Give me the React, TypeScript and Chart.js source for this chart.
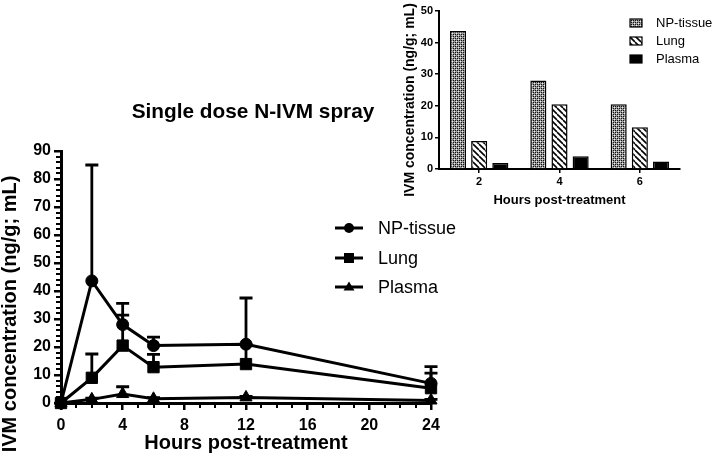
import React, { useEffect, useRef } from 'react';
import { Chart, registerables } from 'chart.js';

Chart.register(...registerables);

const FONT = 'Arial, "Liberation Sans", Helvetica, sans-serif';

// ---- main chart data ----
const hours = [0, 2, 4, 6, 12, 24];
const seriesNames = ['NP-tissue', 'Lung', 'Plasma'];
const npTissue = [0, 43.6, 28, 20.5, 21, 7];
const npTissueErr = [0, 41.4, 7.6, 3, 16.5, 6];
const lung = [0, 9, 20.5, 12.8, 13.9, 5.3];
const lungErr = [0, 8.5, 10.9, 4.6, 7, 5.4];
const plasma = [0, 1.3, 3.2, 1.5, 2.0, 0.9];
const plasmaErr = [0, 0.4, 2.6, 0.4, 0.4, 0.4];
const mainTitle = 'Single dose N-IVM spray';
const yTitle = 'IVM concentration (ng/g; mL)';
const xTitle = 'Hours post-treatment';

// ---- inset bar chart data ----
const barHours = ['2', '4', '6'];
const barNp = [43.7, 28.0, 20.5];
const barLung = [8.9, 20.5, 13.2];
const barPlasma = [1.9, 4.0, 2.4];

function makeDotPattern(): CanvasPattern | string {
  const c = document.createElement('canvas');
  c.width = 4; c.height = 4;
  const g = c.getContext('2d');
  if (!g) return '#999';
  g.fillStyle = '#9a9a9a';
  g.fillRect(0, 0, 4, 4);
  g.fillStyle = '#111';
  g.fillRect(0, 0, 1, 1);
  g.fillRect(2, 2, 1, 1);
  g.fillRect(2, 0, 1, 1);
  g.fillRect(0, 2, 1, 1);
  g.fillStyle = '#eee';
  g.fillRect(1, 1, 1, 1);
  g.fillRect(3, 3, 1, 1);
  return g.createPattern(c, 'repeat') || '#999';
}

function makeStripePattern(): CanvasPattern | string {
  const s = 6;
  const c = document.createElement('canvas');
  c.width = s; c.height = s;
  const g = c.getContext('2d');
  if (!g) return '#ccc';
  g.fillStyle = '#fff';
  g.fillRect(0, 0, s, s);
  g.strokeStyle = '#000';
  g.lineWidth = 1.6;
  for (const k of [-s, 0, s]) {
    g.beginPath();
    g.moveTo(k, 0);
    g.lineTo(k + s, s);
    g.stroke();
  }
  return g.createPattern(c, 'repeat') || '#ccc';
}

function drawMarker(ctx: CanvasRenderingContext2D, style: string, x: number, y: number, r: number) {
  ctx.beginPath();
  if (style === 'circle') {
    ctx.arc(x, y, r, 0, Math.PI * 2);
  } else if (style === 'rect') {
    ctx.rect(x - r, y - r, 2 * r, 2 * r);
  } else {
    const h = r * 1.8;
    ctx.moveTo(x, y - h * 0.6);
    ctx.lineTo(x + r * 1.1, y + h * 0.4);
    ctx.lineTo(x - r * 1.1, y + h * 0.4);
    ctx.closePath();
  }
  ctx.fill();
}

const Y_MINOR_STEP = 2;
const X_MINOR_STEP = 1;

const errorBarsPlugin = {
  id: 'errorBars',
  afterDatasetsDraw(chart: any) {
    const { ctx } = chart;
    const ys = chart.scales.y;
    ctx.save();
    ctx.strokeStyle = '#000';
    ctx.lineWidth = 2.8;
    chart.data.datasets.forEach((ds: any, di: number) => {
      const meta = chart.getDatasetMeta(di);
      meta.data.forEach((pt: any, i: number) => {
        const e = ds.errors ? ds.errors[i] : 0;
        if (!e) return;
        const v = ds.data[i].y;
        const top = ys.getPixelForValue(v + e);
        ctx.beginPath();
        ctx.moveTo(pt.x, pt.y);
        ctx.lineTo(pt.x, top);
        ctx.moveTo(pt.x - 6.5, top);
        ctx.lineTo(pt.x + 6.5, top);
        ctx.stroke();
      });
    });
    ctx.restore();
  },
};

const mainDecorPlugin = {
  id: 'mainDecor',
  afterDraw(chart: any) {
    const ctx: CanvasRenderingContext2D = chart.ctx;
    const area = chart.chartArea;
    const xs = chart.scales.x;
    const ys = chart.scales.y;
    ctx.save();
    // minor ticks
    ctx.strokeStyle = '#000000';
    ctx.lineWidth = 2;
    ctx.beginPath();
    for (let v = ys.min; v <= ys.max; v += Y_MINOR_STEP) {
      if (v % 10 === 0) continue;
      const py = Math.round(ys.getPixelForValue(v));
      ctx.moveTo(area.left, py);
      ctx.lineTo(area.left - 5, py);
    }
    for (let v = xs.min; v <= xs.max; v += X_MINOR_STEP) {
      if (v % 4 === 0) continue;
      const px = Math.round(xs.getPixelForValue(v));
      ctx.moveTo(px, area.bottom);
      ctx.lineTo(px, area.bottom + 5);
    }
    ctx.stroke();

    ctx.fillStyle = '#000';
    ctx.font = `bold 20.8px ${FONT}`;
    ctx.textAlign = 'center';
    ctx.textBaseline = 'middle';
    ctx.fillText(mainTitle, 253, 112);
    ctx.font = `bold 20px ${FONT}`;
    ctx.save();
    ctx.translate(10, 314);
    ctx.rotate(-Math.PI / 2);
    ctx.fillText(yTitle, 0, 0);
    ctx.restore();
    const rows = [228, 258, 287];
    const styles = ['circle', 'rect', 'triangle'];
    ctx.font = `18px ${FONT}`;
    ctx.textAlign = 'left';
    chart.data.datasets.forEach((ds: any, i: number) => {
      const y = rows[i];
      ctx.strokeStyle = '#000';
      ctx.lineWidth = 3;
      ctx.beginPath();
      ctx.moveTo(335, y);
      ctx.lineTo(363, y);
      ctx.stroke();
      drawMarker(ctx, styles[i], 349, y, 5);
      ctx.fillText(ds.label, 378, y + 1);
    });
    ctx.restore();
  },
};

const insetDecorPlugin = {
  id: 'insetDecor',
  afterDraw(chart: any) {
    const { ctx } = chart;
    ctx.save();
    ctx.fillStyle = '#000';
    ctx.textBaseline = 'middle';
    ctx.textAlign = 'center';
    ctx.font = `bold 14px ${FONT}`;
    ctx.save();
    ctx.translate(15, 100);
    ctx.rotate(-Math.PI / 2);
    ctx.fillText(yTitle, 0, 0);
    ctx.restore();
    const rows = [23, 41, 59];
    ctx.font = `13px ${FONT}`;
    ctx.textAlign = 'left';
    chart.data.datasets.forEach((ds: any, i: number) => {
      const y = rows[i];
      ctx.fillStyle = ds.backgroundColor;
      ctx.fillRect(235, y - 4, 12, 8);
      ctx.strokeStyle = '#000';
      ctx.lineWidth = 1.2;
      ctx.strokeRect(235, y - 4, 12, 8);
      ctx.fillStyle = '#000';
      ctx.fillText(ds.label, 261, y + 0.5);
    });
    ctx.restore();
  },
};

export default function App() {
  const mainRef = useRef<HTMLCanvasElement>(null);
  const insetRef = useRef<HTMLCanvasElement>(null);

  useEffect(() => {
    Chart.defaults.font.family = FONT;
    Chart.defaults.color = '#000';

    const mk = (vals: number[], errs: number[], label: string, style: string, radius: number) => ({
      label,
      data: hours.map((h, i) => ({ x: h, y: vals[i] })),
      errors: errs,
      borderColor: '#000',
      backgroundColor: '#000',
      borderWidth: 3,
      pointStyle: style,
      pointRadius: radius,
      pointBackgroundColor: '#000',
      pointBorderColor: '#000',
      pointBorderWidth: 1,
      tension: 0,
      clip: false,
    });

    const tickFontMain = { size: 16, weight: 'bold' as const, family: FONT };

    const main = new Chart(mainRef.current as HTMLCanvasElement, {
      type: 'line',
      data: {
        datasets: [
          mk(npTissue, npTissueErr, seriesNames[0], 'circle', 6),
          mk(lung, lungErr, seriesNames[1], 'rect', 8),
          mk(plasma, plasmaErr, seriesNames[2], 'triangle', 7),
        ] as any,
      },
      options: {
        responsive: false,
        animation: false,
        devicePixelRatio: 1,
        layout: { padding: { left: 0, top: 151, right: 283, bottom: 0 } },
        plugins: { legend: { display: false }, tooltip: { enabled: false }, title: { display: false } },
        scales: {
          x: {
            type: 'linear',
            min: 0,
            max: 24,
            ticks: { stepSize: 4, font: tickFontMain, color: '#000', padding: 6, maxRotation: 0 },
            grid: { display: true, drawOnChartArea: false, drawTicks: true, tickLength: 7, tickWidth: 2.5, lineWidth: 2.5, tickColor: '#000', color: '#000' },
            border: { display: true, color: '#000', width: 3 },
            title: { display: true, text: xTitle, color: '#000', font: { size: 20, weight: 'bold', family: FONT }, padding: { top: 0, bottom: 10 } },
            afterFit: (s: any) => { s.height = 62; },
          },
          y: {
            type: 'linear',
            min: 0,
            max: 90,
            ticks: { stepSize: 10, font: tickFontMain, color: '#000', padding: 3 },
            grid: { display: true, drawOnChartArea: false, drawTicks: true, tickLength: 7, tickWidth: 2.5, lineWidth: 2.5, tickColor: '#000', color: '#000' },
            border: { display: true, color: '#000', width: 3 },
            afterFit: (s: any) => { s.width = 61; },
          },
        },
      } as any,
      plugins: [errorBarsPlugin, mainDecorPlugin],
    });

    const dot = makeDotPattern();
    const stripe = makeStripePattern();
    const tickFontInset = { size: 11, weight: 'bold' as const, family: FONT };

    const inset = new Chart(insetRef.current as HTMLCanvasElement, {
      type: 'bar',
      data: {
        labels: barHours,
        datasets: [
          { label: seriesNames[0], data: barNp, backgroundColor: dot, borderColor: '#000', borderWidth: 1.5 },
          { label: seriesNames[1], data: barLung, backgroundColor: stripe, borderColor: '#000', borderWidth: 1.5 },
          { label: seriesNames[2], data: barPlasma, backgroundColor: '#000', borderColor: '#000', borderWidth: 1.5 },
        ] as any,
      },
      options: {
        responsive: false,
        animation: false,
        devicePixelRatio: 1,
        layout: { padding: { left: 0, top: 11, right: 34, bottom: 0 } },
        datasets: { bar: { categoryPercentage: 0.79, barPercentage: 0.76 } },
        plugins: { legend: { display: false }, tooltip: { enabled: false }, title: { display: false } },
        scales: {
          x: {
            type: 'category',
            offset: true,
            ticks: { font: tickFontInset, color: '#000', padding: 2 },
            grid: { display: true, offset: false, drawOnChartArea: false, drawTicks: true, tickLength: 4, tickWidth: 1.5, lineWidth: 1.5, tickColor: '#000', color: '#000' },
            border: { display: true, color: '#000', width: 2 },
            title: { display: true, text: xTitle, color: '#000', font: { size: 13, weight: 'bold', family: FONT }, padding: { top: 0, bottom: 7 } },
            afterFit: (s: any) => { s.height = 46; },
          },
          y: {
            type: 'linear',
            min: 0,
            max: 50,
            ticks: { stepSize: 10, font: tickFontInset, color: '#000', padding: 2 },
            grid: { display: true, drawOnChartArea: false, drawTicks: true, tickLength: 4, tickWidth: 1.5, lineWidth: 1.5, tickColor: '#000', color: '#000' },
            border: { display: true, color: '#000', width: 2 },
            afterFit: (s: any) => { s.width = 44; },
          },
        },
      } as any,
      plugins: [insetDecorPlugin],
    });

    return () => {
      main.destroy();
      inset.destroy();
    };
  }, []);

  return (
    <div style={{ position: 'fixed', left: 0, top: 0, width: 714, height: 465, background: '#fff', overflow: 'hidden' }}>
      <canvas ref={mainRef} width={714} height={465} style={{ position: 'absolute', left: 0, top: 0, display: 'block' }} />
      <canvas ref={insetRef} width={319} height={215} style={{ position: 'absolute', left: 395, top: 0, display: 'block' }} />
    </div>
  );
}
